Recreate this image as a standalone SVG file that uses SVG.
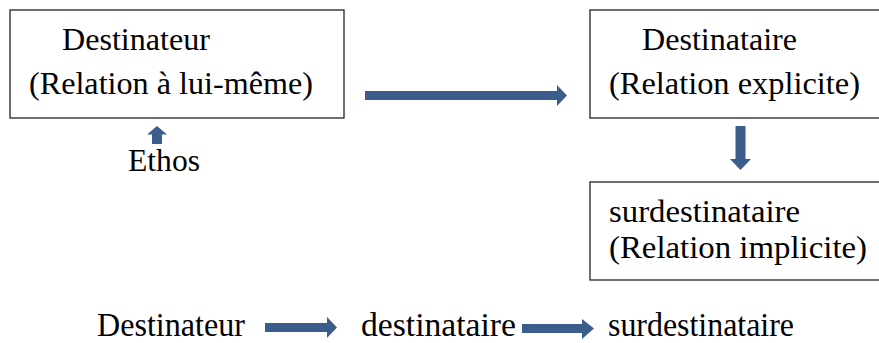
<svg xmlns="http://www.w3.org/2000/svg" width="879" height="343" viewBox="0 0 879 343">
<style>
.box{fill:#fff;stroke:#222;stroke-width:1.3}
.t{font-family:"Times New Roman","Liberation Serif",Times,serif;font-size:32px;fill:#000}
.c{font-size:33px}
.arr{fill:#3A5D8C}
</style>
<rect width="879" height="343" fill="#fff"/>
<g id="destinateur">
<rect class="box" x="10" y="10" width="334" height="108"/>
<text class="t" x="62" y="50" textLength="148" lengthAdjust="spacingAndGlyphs">Destinateur</text>
<text class="t" x="29" y="94" textLength="284" lengthAdjust="spacingAndGlyphs">(Relation à lui-même)</text>
</g>
<g id="destinataire">
<rect class="box" x="590" y="10" width="300" height="108"/>
<text class="t" x="642" y="50" textLength="155" lengthAdjust="spacingAndGlyphs">Destinataire</text>
<text class="t" x="609" y="94" textLength="251" lengthAdjust="spacingAndGlyphs">(Relation explicite)</text>
</g>
<g id="surdestinataire">
<rect class="box" x="590" y="182" width="300" height="98"/>
<text class="t" x="609" y="222" textLength="191" lengthAdjust="spacingAndGlyphs">surdestinataire</text>
<text class="t" x="609" y="258" textLength="258" lengthAdjust="spacingAndGlyphs">(Relation implicite)</text>
</g>
<g id="ethos">
<text class="t" x="128" y="171" textLength="72" lengthAdjust="spacingAndGlyphs">Ethos</text>
</g>
<g id="chain">
<text class="t c" x="97" y="336" textLength="148" lengthAdjust="spacingAndGlyphs">Destinateur</text>
<text class="t c" x="361" y="336" textLength="155" lengthAdjust="spacingAndGlyphs">destinataire</text>
<text class="t c" x="608" y="336" textLength="186" lengthAdjust="spacingAndGlyphs">surdestinataire</text>
</g>
<g id="connectors">
<polygon class="arr" points="365,91 557,91 557,85 567,95.5 557,106 557,100 365,100"/>
<polygon class="arr" points="735.5,126 745.5,126 745.5,159 751,159 740.5,170 730,159 735.5,159"/>
<polygon class="arr" points="152,144 162,144 162,134.5 167,134.5 157,126 147,134.5 152,134.5"/>
<polygon class="arr" points="265,323 327,323 327,317 337,327.5 327,338 327,332 265,332"/>
<polygon class="arr" points="522,324 582,324 582,319 594,328.5 582,339 582,333 522,333"/>
</g>
</svg>
